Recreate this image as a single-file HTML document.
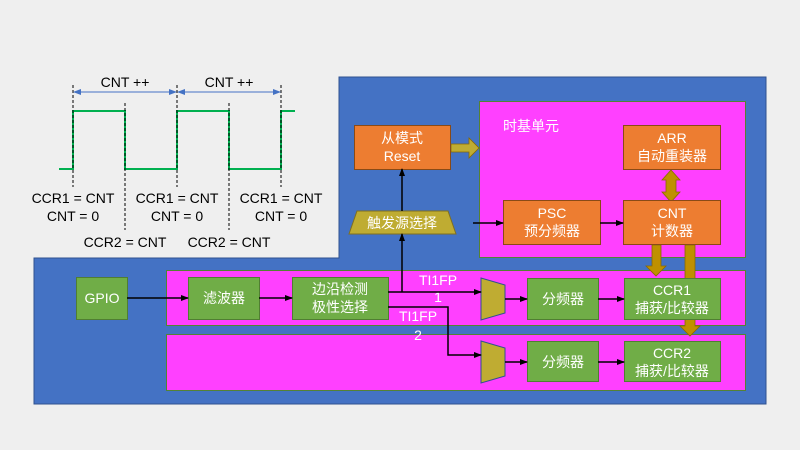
<!DOCTYPE html>
<html><head><meta charset="utf-8"><style>
html,body{margin:0;padding:0;background:#efefef}
svg{display:block}
text{font-family:"Liberation Sans","Noto Sans CJK SC",sans-serif}
</style></head><body>
<svg width="800" height="450" viewBox="0 0 800 450" xmlns="http://www.w3.org/2000/svg">
<defs>
<marker id="ar" markerWidth="8" markerHeight="8" refX="7" refY="4" orient="auto" markerUnits="userSpaceOnUse"><path d="M0,1 L8,4 L0,7 z" fill="#000"/></marker>
<marker id="ab" markerWidth="8" markerHeight="8" refX="7" refY="4" orient="auto-start-reverse" markerUnits="userSpaceOnUse"><path d="M0,1 L8,4 L0,7 z" fill="#4472c4"/></marker>
</defs>
<rect width="800" height="450" fill="#efefef"/>
<path d="M339,77 H766 V404 H34 V258 H339 Z" fill="#4472c4" stroke="#2f528f" stroke-width="1"/>
<rect x="479.5" y="101.5" width="266" height="156" fill="#ff40ff" stroke="#548235"/>
<text x="503" y="131" font-size="14" fill="#fff" font-family="Liberation Sans, Noto Sans CJK SC, sans-serif">时基单元</text>
<rect x="166.5" y="270.5" width="579" height="55" fill="#ff40ff" stroke="#548235"/>
<rect x="166.5" y="334.5" width="579" height="56" fill="#ff40ff" stroke="#548235"/>
<!-- gold arrows (behind boxes) -->
<g fill="#bf9000" stroke="#8a6a00" stroke-width="0.8">
<path d="M451,144 H469 V138 L479,148 L469,158 V152 H451 Z" fill="#bfac32"/>
<path d="M671,170 L680,180 H676 V192 H680 L671,202 L662,192 H666 V180 H662 Z"/>
<path d="M652,245 H661 V266 H666 L656,276 L646,266 H652 Z"/>
<path d="M685,245 H695 V326 H700 L690,336 L680,326 H685 Z"/>
</g>
<g font-size="14" fill="#fff" text-anchor="middle">
<rect x="354.5" y="125.5" width="96" height="44" fill="#ed7d31" stroke="#8a4a16"/>
<text x="402" y="143">从模式</text><text x="402" y="161">Reset</text>
<rect x="623.5" y="125.5" width="97" height="44" fill="#ed7d31" stroke="#8a4a16"/>
<text x="672" y="143">ARR</text><text x="672" y="161">自动重装器</text>
<rect x="503.5" y="200.5" width="97" height="44" fill="#ed7d31" stroke="#8a4a16"/>
<text x="552" y="218">PSC</text><text x="552" y="236">预分频器</text>
<rect x="623.5" y="200.5" width="97" height="44" fill="#ed7d31" stroke="#8a4a16"/>
<text x="672" y="218">CNT</text><text x="672" y="236">计数器</text>
<path d="M357,211 H448 L456,234 H349 Z" fill="#bfac32" stroke="#7f6f20"/>
<text x="402" y="228">触发源选择</text>
<rect x="76.5" y="277.5" width="51" height="42" fill="#70ad47" stroke="#507e32"/>
<text x="102" y="303">GPIO</text>
<rect x="188.5" y="277.5" width="71" height="42" fill="#70ad47" stroke="#507e32"/>
<text x="224" y="303">滤波器</text>
<rect x="292.5" y="277.5" width="96" height="42" fill="#70ad47" stroke="#507e32"/>
<text x="340" y="294">边沿检测</text><text x="340" y="312">极性选择</text>
<rect x="527.5" y="278.5" width="71" height="41" fill="#70ad47" stroke="#507e32"/>
<text x="563" y="304">分频器</text>
<rect x="624.5" y="278.5" width="96" height="41" fill="#70ad47" stroke="#507e32"/>
<text x="672" y="295">CCR1</text><text x="672" y="313">捕获/比较器</text>
<rect x="527.5" y="341.5" width="71" height="40" fill="#70ad47" stroke="#507e32"/>
<text x="563" y="367">分频器</text>
<rect x="624.5" y="341.5" width="96" height="40" fill="#70ad47" stroke="#507e32"/>
<text x="672" y="358">CCR2</text><text x="672" y="376">捕获/比较器</text>
<text x="438" y="285">TI1FP</text><text x="438" y="302">1</text>
<text x="418" y="321">TI1FP</text><text x="418" y="340">2</text>
</g>
<path d="M481,278 L505,285 V313 L481,320 Z" fill="#bfac32" stroke="#2f528f"/>
<path d="M481,341 L505,348 V376 L481,383 Z" fill="#bfac32" stroke="#2f528f"/>
<g stroke="#000" stroke-width="1.5" fill="none">
<line x1="127" y1="298" x2="188" y2="298" marker-end="url(#ar)"/>
<line x1="259" y1="298" x2="292" y2="298" marker-end="url(#ar)"/>
<line x1="388" y1="292" x2="481" y2="292" marker-end="url(#ar)"/>
<polyline points="388,307 448,307 448,355 481,355" marker-end="url(#ar)"/>
<line x1="402" y1="292" x2="402" y2="234" marker-end="url(#ar)"/>
<line x1="402" y1="211" x2="402" y2="169" marker-end="url(#ar)"/>
<line x1="473" y1="223" x2="503" y2="223" marker-end="url(#ar)"/>
<line x1="600" y1="223" x2="623" y2="223" marker-end="url(#ar)"/>
<line x1="505" y1="299" x2="527" y2="299" marker-end="url(#ar)"/>
<line x1="598" y1="299" x2="624" y2="299" marker-end="url(#ar)"/>
<line x1="505" y1="362" x2="527" y2="362" marker-end="url(#ar)"/>
<line x1="598" y1="362" x2="624" y2="362" marker-end="url(#ar)"/>
</g>
<polyline points="59,169 73,169 73,111 125,111 125,169 177,169 177,111 229,111 229,169 281,169 281,111 295,111" fill="none" stroke="#00b050" stroke-width="2"/>
<g stroke="#000" stroke-width="1" stroke-dasharray="3,2">
<line x1="73" y1="85" x2="73" y2="187"/><line x1="177" y1="85" x2="177" y2="187"/><line x1="281" y1="85" x2="281" y2="187"/>
<line x1="125" y1="103" x2="125" y2="230"/><line x1="229" y1="103" x2="229" y2="230"/>
</g>
<g stroke="#4472c4" stroke-width="1">
<line x1="74" y1="92" x2="176" y2="92" marker-start="url(#ab)" marker-end="url(#ab)"/>
<line x1="178" y1="92" x2="280" y2="92" marker-start="url(#ab)" marker-end="url(#ab)"/>
</g>
<g font-size="14" fill="#000" text-anchor="middle">
<text x="125" y="87">CNT ++</text><text x="229" y="87">CNT ++</text>
<text x="73" y="203">CCR1 = CNT</text><text x="73" y="221">CNT = 0</text>
<text x="177" y="203">CCR1 = CNT</text><text x="177" y="221">CNT = 0</text>
<text x="281" y="203">CCR1 = CNT</text><text x="281" y="221">CNT = 0</text>
<text x="125" y="247">CCR2 = CNT</text><text x="229" y="247">CCR2 = CNT</text>
</g>
</svg>
</body></html>
